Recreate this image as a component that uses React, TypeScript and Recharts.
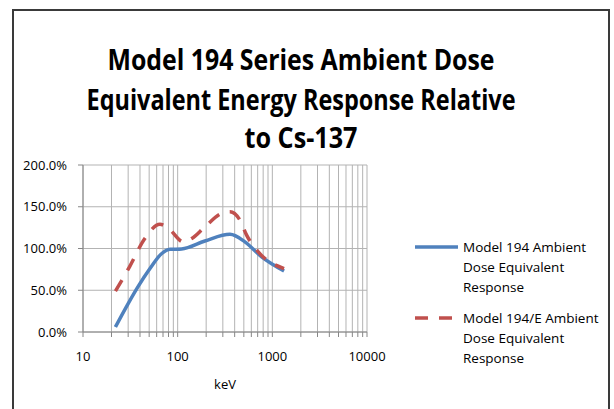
import React from 'react'
import { LineChart, Line, XAxis, YAxis, CartesianGrid, Label } from 'recharts'

// Energy response relative to Cs-137
const blueKeV = [22, 30, 38, 51, 68, 83, 110, 194, 357, 513, 771, 1330]
const blueResponse = [6, 34, 54, 76, 94, 99, 99.5, 109, 117, 108, 90, 73]

const redKeV = [22, 31, 45, 65, 80, 115, 141, 194, 291, 357, 455, 535, 710, 1330]
const redResponse = [49, 78, 112, 129, 124, 108, 112, 126, 142, 144, 134, 116, 96, 76]

const xTicks = [
  10, 20, 30, 40, 50, 60, 70, 80, 90,
  100, 200, 300, 400, 500, 600, 700, 800, 900,
  1000, 2000, 3000, 4000, 5000, 6000, 7000, 8000, 9000,
  10000,
]
const xLabelTicks = [10, 100, 1000, 10000]
const yTicks = [0, 50, 100, 150, 200]

const titleLines = [
  'Model 194 Series Ambient Dose',
  'Equivalent Energy Response Relative',
  'to Cs-137',
]
const seriesNames = [
  ['Model 194 Ambient', 'Dose Equivalent', 'Response'],
  ['Model 194/E Ambient', 'Dose Equivalent', 'Response'],
]

const BLUE = '#4F81BD'
const RED = '#C0504D'
const GRID = '#B3B3B3'
const AXIS = '#868686'
const FONT = "'Open Sans', 'Noto Sans', sans-serif"

const blueData = blueKeV.map((kev, i) => ({ kev, value: blueResponse[i] }))
const redData = redKeV.map((kev, i) => ({ kev, value: redResponse[i] }))

export default function App() {
  return (
    <div
      style={{
        position: 'absolute',
        left: 0,
        top: 0,
        width: 614,
        height: 409,
        overflow: 'hidden',
        background: '#fff',
        fontFamily: FONT,
      }}
    >
      {/* chart frame */}
      <div
        style={{
          position: 'absolute',
          left: 12,
          top: 9,
          width: 598,
          height: 440,
          border: '2px solid #3a3a3a',
          boxSizing: 'border-box',
        }}
      />

      {/* title */}
      <svg width={614} height={160} style={{ position: 'absolute', left: 0, top: 0 }}>
        {titleLines.map((t, i) => (
          <text
            key={i}
            x={301}
            y={[70, 110, 148][i]}
            textAnchor="middle"
            fontFamily={FONT}
            fontWeight={700}
            fontSize={28}
            fill="#000"
            textLength={[387, 429, 113][i]}
            lengthAdjust="spacingAndGlyphs"
          >
            {t}
          </text>
        ))}
      </svg>

      <div style={{ position: 'absolute', left: 0, top: 0 }}>
        <LineChart
          width={614}
          height={409}
          margin={{ top: 165, right: 247, bottom: 20, left: 13 }}
        >
          <CartesianGrid stroke={GRID} strokeWidth={1} />
          <XAxis
            dataKey="kev"
            type="number"
            scale="log"
            domain={[10, 10000]}
            ticks={xTicks}
            interval={0}
            height={57}
            tickSize={5}
            tickMargin={15}
            stroke={AXIS}
            tick={{ fill: '#000', fontSize: 13, fontFamily: FONT }}
            tickFormatter={(v: number) => (xLabelTicks.includes(v) ? String(v) : '')}
          >
            <Label
              value="keV"
              position="insideBottom"
              offset={0}
              style={{ fill: '#000', fontSize: 13, fontFamily: FONT }}
            />
          </XAxis>
          <YAxis
            type="number"
            domain={[0, 200]}
            ticks={yTicks}
            width={70}
            tickSize={5}
            tickMargin={11}
            stroke={AXIS}
            tick={{ fill: '#000', fontSize: 13, fontFamily: FONT }}
            tickFormatter={(v: number) => `${v.toFixed(1)}%`}
          />
          <Line
            data={blueData}
            dataKey="value"
            type="monotone"
            stroke={BLUE}
            strokeWidth={3.5}
            dot={false}
            isAnimationActive={false}
          />
          <Line
            data={redData}
            dataKey="value"
            type="monotone"
            stroke={RED}
            strokeWidth={3.5}
            strokeDasharray="13 11"
            dot={false}
            isAnimationActive={false}
          />
        </LineChart>
      </div>

      {/* legend */}
      <svg width={614} height={409} style={{ position: 'absolute', left: 0, top: 0 }}>
        {seriesNames.map((lines, i) => {
          const top = i === 0 ? 252 : 323
          const lineY = top - 5
          return (
            <g key={i}>
              <line
                x1={415}
                x2={458}
                y1={lineY}
                y2={lineY}
                stroke={i === 0 ? BLUE : RED}
                strokeWidth={3.5}
                strokeDasharray={i === 0 ? undefined : '13 11'}
              />
              {lines.map((l, j) => (
                <text
                  key={j}
                  x={463}
                  y={top + j * 20}
                  fontFamily={FONT}
                  fontSize={13.5}
                  fill="#000"
                >
                  {l}
                </text>
              ))}
            </g>
          )
        })}
      </svg>
    </div>
  )
}
